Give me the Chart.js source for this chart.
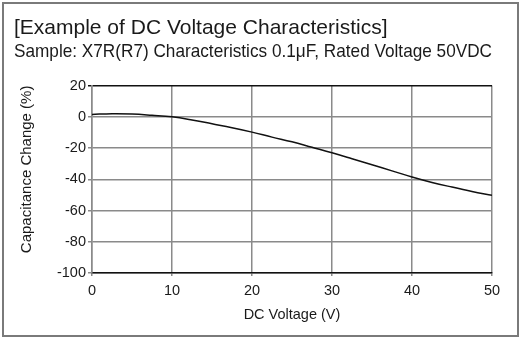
<!DOCTYPE html>
<html>
<head>
<meta charset="utf-8">
<script src="https://cdn.jsdelivr.net/npm/chart.js@4"></script>
<style>
  html, body { margin: 0; padding: 0; background: #fff; }
  #wrap { position: relative; width: 522px; height: 339px; }
  #frame { position: absolute; left: 2px; top: 2px; width: 513px; height: 331px;
           border: 2px solid #7a7a7a; pointer-events: none; }
</style>
</head>
<body>
<div id="wrap">
  <canvas id="grafica" width="522" height="339"></canvas>
  <div id="frame"></div>
</div>
<script>
// DC voltage (V) and capacitance change (%)
const voltajes = [0, 2.5, 5, 7.5, 10, 12.5, 15, 17.5, 20, 22.5, 25, 27.5, 30, 32.5, 35, 37.5, 40, 42.5, 45, 47.5, 50];
const cambios = [1.5, 2, 1.8, 1, 0, -2, -4.5, -7, -9.8, -13, -16, -19.5, -23, -26.8, -30.7, -34.6, -38.5, -42, -45, -47.8, -50.3];
const ticksX = [0, 10, 20, 30, 40, 50];
const ticksY = [20, 0, -20, -40, -60, -80, -100];

const textoColor = '#1a1a1a';
const fuente = "'Liberation Sans', Arial, sans-serif";

const ctx = document.getElementById('grafica').getContext('2d');
const chart = new Chart(ctx, {
    type: 'line',
    data: {
        datasets: [{
            data: voltajes.map((v, i) => ({ x: v, y: cambios[i] })),
            borderColor: '#111',
            borderWidth: 1.5,
            pointRadius: 0,
            tension: 0.4,
            fill: false
        }]
    },
    options: {
        responsive: false,
        animation: false,
        layout: { padding: { left: 14, right: 30, top: 16, bottom: 11 } },
        plugins: {
            legend: { display: false },
            tooltip: { enabled: false },
            title: {
                display: true,
                text: '[Example of DC Voltage Characteristics]',
                align: 'start',
                color: textoColor,
                font: { family: fuente, size: 21, weight: 'normal' },
                padding: { top: 0, bottom: 0 }
            },
            subtitle: {
                display: true,
                text: 'Sample: X7R(R7) Characteristics 0.1μF, Rated Voltage 50VDC',
                align: 'start',
                color: textoColor,
                font: { family: fuente, size: 17.8, weight: 'normal' },
                padding: { top: 0, bottom: 23 }
            }
        },
        scales: {
            x: {
                type: 'linear',
                min: 0,
                max: 50,
                afterBuildTicks: (axis) => { axis.ticks = ticksX.map(v => ({ value: v })); },
                afterFit: (axis) => { axis.height = 55; },
                ticks: { color: textoColor, font: { family: fuente, size: 14.5 }, padding: 6, maxRotation: 0 },
                grid: { color: '#8a8a8a', lineWidth: 1.5, tickLength: 3 },
                border: { color: '#111', width: 1.5 },
                title: {
                    display: true,
                    text: 'DC Voltage (V)',
                    color: textoColor,
                    font: { family: fuente, size: 14.5 },
                    padding: { top: 2 }
                }
            },
            y: {
                min: -100,
                max: 20,
                afterBuildTicks: (axis) => { axis.ticks = ticksY.map(v => ({ value: v })); },
                afterFit: (axis) => { axis.width = 78; },
                ticks: { color: textoColor, font: { family: fuente, size: 14.5 }, padding: 2 },
                grid: {
                    color: (c) => (c.tick && c.tick.value === 20) ? '#111' : '#8a8a8a',
                    lineWidth: 1.5,
                    tickLength: 4
                },
                border: { color: '#8a8a8a', width: 1.5 },
                title: {
                    display: true,
                    text: 'Capacitance Change (%)',
                    align: 'end',
                    color: textoColor,
                    font: { family: fuente, size: 15 },
                    padding: { bottom: 4 }
                }
            }
        }
    }
});
</script>
</body>
</html>
